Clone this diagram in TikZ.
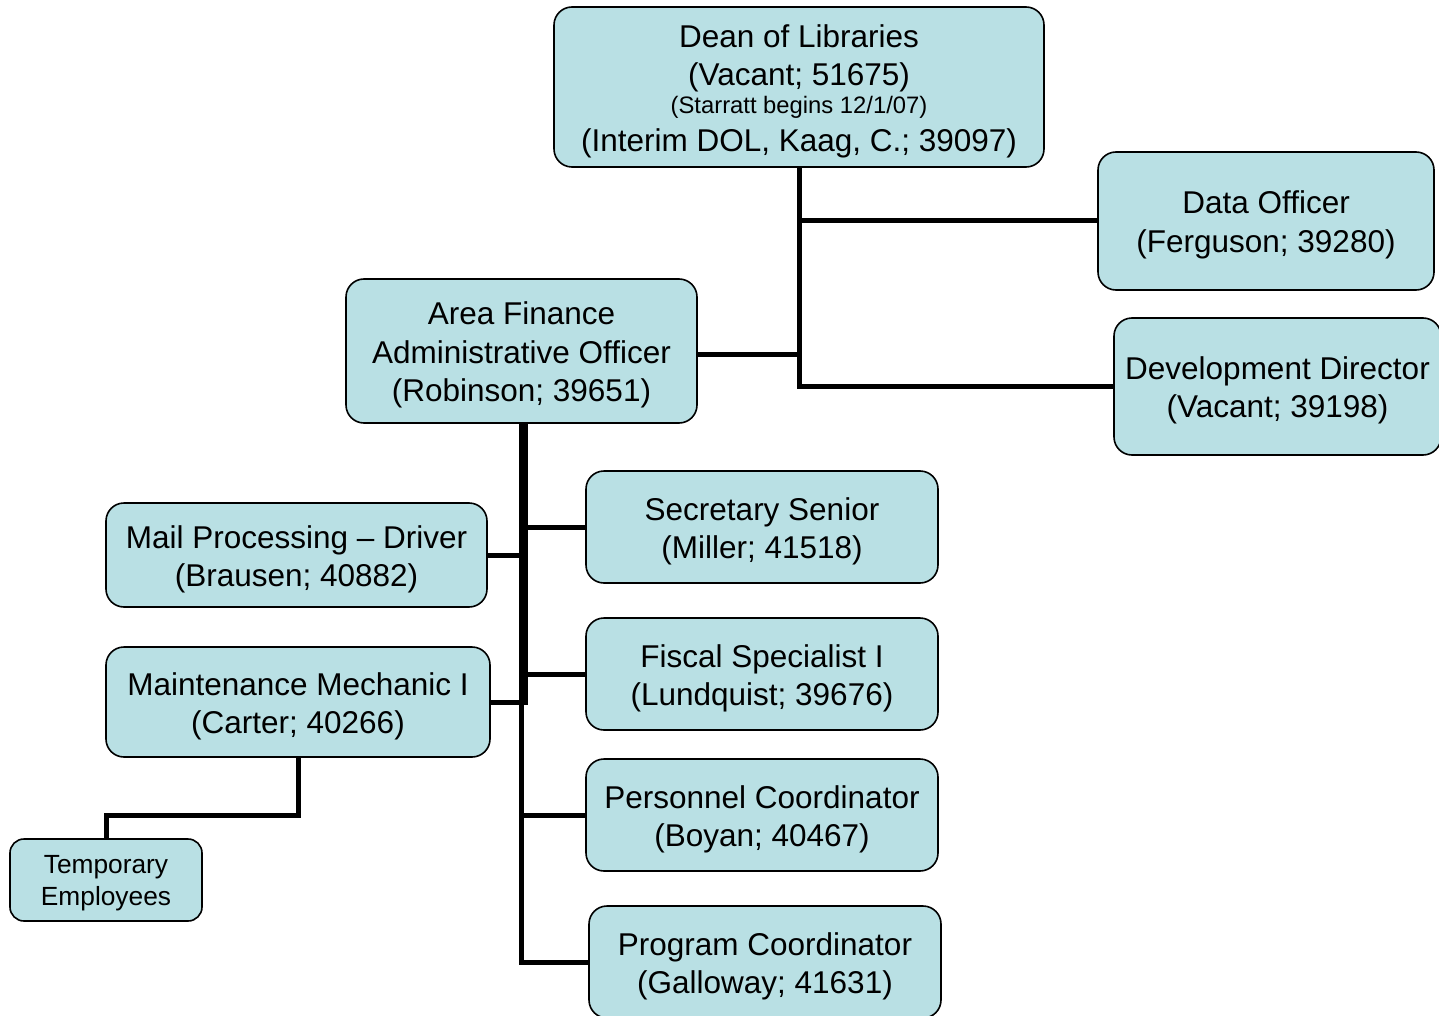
\documentclass[tikz,border=0pt]{standalone}
\usepackage{fontspec}
\setmainfont{Liberation Sans}
\definecolor{boxfill}{RGB}{185,224,228}
\begin{document}
\begin{tikzpicture}[x=1pt,y=-1pt,
  orgbox/.style={draw=black, line width=1.6pt, fill=boxfill, rounded corners=18pt, inner sep=0pt},
  boxtext/.style={inner sep=0pt, align=center, yshift=-4pt, font=\fontsize{31.5}{38.3}\selectfont},
  conn/.style={line width=5pt, black}]
\useasboundingbox (0,0) rectangle (1439,1016);

\node[orgbox, minimum width=490pt, minimum height=160pt,
  label={[boxtext]center:{Dean of Libraries\\(Vacant; 51675)\\[-10pt]{\fontsize{23.8}{28}\selectfont (Starratt begins 12/1/07)}\\[-1pt](Interim DOL, Kaag, C.; 39097)}}] (dean) at (799,87) {};
\node[orgbox, minimum width=336pt, minimum height=138pt,
  label={[boxtext]center:{Data Officer\\(Ferguson; 39280)}}] (data) at (1266,221) {};
\node[orgbox, minimum width=327pt, minimum height=137pt,
  label={[boxtext]center:{Development Director\\(Vacant; 39198)}}] (dev) at (1277.5,386.5) {};
\node[orgbox, minimum width=351pt, minimum height=144pt,
  label={[boxtext]center:{Area Finance\\Administrative Officer\\(Robinson; 39651)}}] (afao) at (521.5,351) {};
\node[orgbox, minimum width=381pt, minimum height=104pt,
  label={[boxtext]center:{Mail Processing -- Driver\\(Brausen; 40882)}}] (mail) at (296.5,555) {};
\node[orgbox, minimum width=384pt, minimum height=110pt,
  label={[boxtext]center:{Maintenance Mechanic I\\(Carter; 40266)}}] (maint) at (298,702) {};
\node[orgbox, rounded corners=14pt, minimum width=192pt, minimum height=82pt,
  label={[boxtext, yshift=1pt, font=\fontsize{26.3}{32}\selectfont]center:{Temporary\\Employees}}] (temp) at (106,880) {};
\node[orgbox, minimum width=352pt, minimum height=112pt,
  label={[boxtext]center:{Secretary Senior\\(Miller; 41518)}}] (sec) at (762,527) {};
\node[orgbox, minimum width=352pt, minimum height=112pt,
  label={[boxtext]center:{Fiscal Specialist I\\(Lundquist; 39676)}}] (fis) at (762,674) {};
\node[orgbox, minimum width=352pt, minimum height=112pt,
  label={[boxtext]center:{Personnel Coordinator\\(Boyan; 40467)}}] (pers) at (762,815) {};
\node[orgbox, minimum width=352pt, minimum height=112pt,
  label={[boxtext]center:{Program Coordinator\\(Galloway; 41631)}}] (prog) at (765,962) {};

\draw[conn] (dean.south) |- (data.west);
\draw[conn] (dean.south) |- (dev.west);
\draw[conn] (dean.south) |- ([yshift=-3pt]afao.east);
\draw[conn] (afao.south) |- (sec.west);
\draw[conn] (afao.south) |- (fis.west);
\draw[conn] (afao.south) |- (pers.west);
\draw[conn] (afao.south) |- (prog.west);
\draw[conn] ([xshift=4pt]afao.south) |- (mail.east);
\draw[conn] ([xshift=4pt]afao.south) |- (maint.east);
\draw[conn] (maint.south) -- ++(0,58) -| (temp.north);
\end{tikzpicture}
\end{document}
